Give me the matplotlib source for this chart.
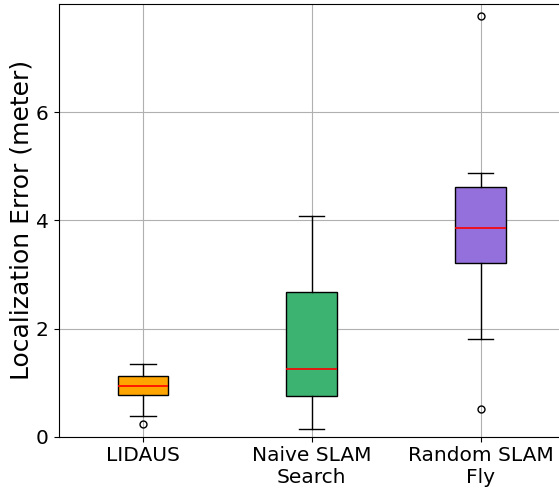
import matplotlib
matplotlib.use("Agg")
import matplotlib.pyplot as plt

categories = ["LIDAUS", "Naive SLAM\nSearch", "Random SLAM\nFly"]
whislo = [0.38, 0.15, 1.80]
q1 = [0.78, 0.76, 3.21]
med = [0.93, 1.26, 3.85]
q3 = [1.115, 2.68, 4.615]
whishi = [1.34, 4.08, 4.88]
fliers = [[0.24], [], [0.52, 7.77]]
colors = ["orange", "mediumseagreen", "mediumpurple"]

stats = []
for i, c in enumerate(categories):
    stats.append(dict(label=c, whislo=whislo[i], q1=q1[i], med=med[i],
                      q3=q3[i], whishi=whishi[i], fliers=fliers[i]))

fig = plt.figure(figsize=(5.59, 4.88), dpi=100)
ax = fig.add_axes([58.5/559, 1 - 436.7/488, (565 - 58.5)/559, (436.7 - 4)/488])
bp = ax.bxp(stats, positions=[1, 2, 3], widths=0.3, patch_artist=True,
            medianprops=dict(color="red", linewidth=1.2),
            flierprops=dict(marker="o", markersize=5, markerfacecolor="none",
                            markeredgecolor="black"))
for patch, col in zip(bp["boxes"], colors):
    patch.set_facecolor(col)
    patch.set_edgecolor("black")
ax.set_xlim(0.5, 3.5)
ax.set_ylim(0, 8)
ax.set_yticks([0, 2, 4, 6])
ax.grid(True, color="#b0b0b0", linewidth=0.8)
ax.set_axisbelow(True)
ax.tick_params(labelsize=14.5)
ax.set_ylabel("Localization Error (meter)", fontsize=18, labelpad=1.5)
fig.savefig("out.png", dpi=100)
